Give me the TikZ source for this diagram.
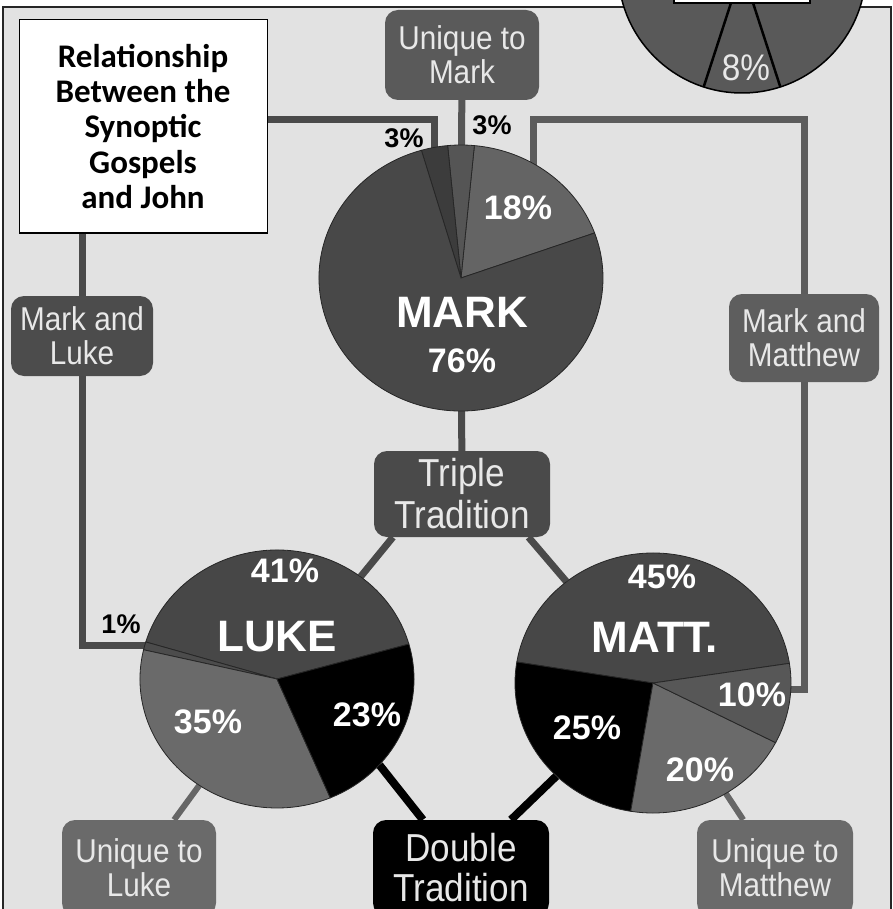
\documentclass[tikz,border=0pt]{standalone}
\usepackage{fontspec}
\setmainfont{Liberation Sans}
\newfontfamily\titlefont{Carlito}
\newfontfamily\boxfont[FakeStretch=0.9]{Liberation Sans}
\usetikzlibrary{shapes.geometric}

\definecolor{panel}{HTML}{E2E2E2}
\definecolor{boxtext}{HTML}{E8E8E8}
\definecolor{umfill}{HTML}{5A5A5A}
\definecolor{mlfill}{HTML}{4C4C4C}
\definecolor{mmfill}{HTML}{5E5E5E}
\definecolor{trifill}{HTML}{4A4A4A}
\definecolor{uqfill}{HTML}{6A6A6A}
\definecolor{lkcol}{HTML}{4A4A4A}
\definecolor{mmcol}{HTML}{5C5C5C}
\definecolor{umcol}{HTML}{555555}
\definecolor{uqcol}{HTML}{666666}
\definecolor{johnfill}{HTML}{595959}
\definecolor{mkE}{HTML}{646464}
\definecolor{mkU}{HTML}{555555}
\definecolor{mkL}{HTML}{3C3C3C}
\definecolor{mkS}{HTML}{484848}
\definecolor{lkS}{HTML}{474747}
\definecolor{lkM}{HTML}{4C4C4C}
\definecolor{lkU}{HTML}{6A6A6A}
\definecolor{mtS}{HTML}{474747}
\definecolor{mtU}{HTML}{6A6A6A}
\definecolor{mtM}{HTML}{575757}

\pgfdeclarelayer{back}
\pgfdeclarelayer{links}
\pgfsetlayers{back,links,main}

\begin{document}
\begin{tikzpicture}[x=1pt, y=1pt,
  gbox/.style={rounded corners=13pt, align=center, text=boxtext, inner sep=0pt, font=\boxfont\fontsize{33}{34}\selectfont},
  bigbox/.style={gbox, font=\boxfont\fontsize{39}{42}\selectfont},
  pie/.style={ellipse, inner sep=0pt},
  wedge/.style={draw=black!85, line width=0.8pt},
  pct/.style={text=white, font=\bfseries\fontsize{34}{34}\selectfont},
  gospel/.style={text=white, font=\bfseries\fontsize{44}{44}\selectfont},
  outpct/.style={text=black, font=\bfseries\fontsize{27}{27}\selectfont},
  link/.style={line width=7pt}]

\useasboundingbox (0,0) rectangle (892,-909);

% Frame
\begin{pgfonlayer}{back}
\fill[white] (0,0) rectangle (892,-909);
\draw[fill=panel, draw=black!85, line width=1.5pt] (3,-7) rectangle (891,-960);
\end{pgfonlayer}

% John pie (cut off at the top)
\filldraw[fill=johnfill, draw=black, line width=1.5pt] (742,31) circle[radius=124pt];
\draw[line width=2.5pt] (742,31) -- ++(252:124pt);
\draw[line width=2.5pt] (742,31) -- ++(288:124pt);
\draw[fill=white, line width=1.2pt] (674,40) rectangle (810,-3);
\node[text=boxtext, font=\boxfont\fontsize{37}{37}\selectfont] (johnp) at (746,-68) {8\%};

% Pies
\node[pie, minimum width=284pt, minimum height=266pt] (mark) at (461,-278) {};
\node[pie, minimum width=274pt, minimum height=258pt] (luke) at (277,-679) {};
\node[pie, minimum width=276pt, minimum height=260pt] (matt) at (653,-683) {};

\foreach \a/\b/\c in {19.8/84.6/mkE, 84.6/95.4/mkU, 95.4/106.2/mkL, 106.2/379.8/mkS}
  \filldraw[wedge, fill=\c] (mark.center) -- ++(\a:142pt and 133pt) arc[start angle=\a, end angle=\b, x radius=142pt, y radius=133pt] -- cycle;
\foreach \a/\b/\c in {15.7/163.3/lkS, 163.3/166.9/lkM, 166.9/292.9/lkU, 292.9/375.7/black}
  \filldraw[wedge, fill=\c] (luke.center) -- ++(\a:137pt and 129pt) arc[start angle=\a, end angle=\b, x radius=137pt, y radius=129pt] -- cycle;
\foreach \a/\b/\c in {8.7/170.7/mtS, 170.7/260.7/black, 260.7/332.7/mtU, 332.7/368.7/mtM}
  \filldraw[wedge, fill=\c] (matt.center) -- ++(\a:138pt and 130pt) arc[start angle=\a, end angle=\b, x radius=138pt, y radius=130pt] -- cycle;

% Boxes
\node[draw=black, fill=white, line width=1pt, minimum width=248pt, minimum height=213pt, align=center, font=\titlefont\bfseries\fontsize{33}{35.3}\selectfont] (title) at (143,-126.5) {Relationship\\Between the\\Synoptic\\Gospels\\and John};
\node[gbox, fill=umfill, minimum width=154pt, minimum height=90pt] (umbox) at (462,-55) {Unique to\\Mark};
\node[gbox, fill=mlfill, minimum width=142pt, minimum height=80pt] (mlbox) at (82,-336) {Mark and\\Luke};
\node[gbox, fill=mmfill, minimum width=150pt, minimum height=88pt] (mmbox) at (804,-338) {Mark and\\Matthew};
\node[bigbox, fill=trifill, minimum width=176pt, minimum height=86pt] (triple) at (462,-494) {Triple\\Tradition};
\node[bigbox, fill=black, minimum width=176pt, minimum height=96pt, font=\boxfont\fontsize{39}{40}\selectfont] (double) at (461,-868) {Double\\Tradition};
\node[gbox, fill=uqfill, minimum width=154pt, minimum height=96pt] (ulbox) at (139,-868) {Unique to\\Luke};
\node[gbox, fill=uqfill, minimum width=156pt, minimum height=96pt] (ummbox) at (775,-868) {Unique to\\Matthew};

% Pie labels
\node[outpct] (mkpl) at (404,-138) {3\%};
\node[outpct] (mkpu) at (492,-125) {3\%};
\node[pct] (mkpe) at (518,-208) {18\%};
\node[gospel] (mklabel) at (462,-312) {MARK};
\node[pct] (mkps) at (462,-361) {76\%};
\node[outpct] (lkpm) at (121,-624) {1\%};
\node[pct] (lkps) at (285,-571) {41\%};
\node[gospel] (lklabel) at (277,-637) {LUKE};
\node[pct] (lkpu) at (208,-722) {35\%};
\node[pct] (lkpd) at (367,-715) {23\%};
\node[pct] (mtps) at (662,-577) {45\%};
\node[gospel] (mtlabel) at (655,-637) {MATT.};
\node[pct] (mtpm) at (752,-695) {10\%};
\node[pct] (mtpd) at (587,-728) {25\%};
\node[pct] (mtpu) at (700,-770) {20\%};

% Connectors
\coordinate (lkjoin) at (200,-645);
\coordinate (mkleft) at (434,-120);
\coordinate (mtjoin) at (720,-689);
\coordinate (mkright) at (533,-120);
\begin{pgfonlayer}{links}
\draw[link, lkcol] (lkjoin) -| (mlbox) |- (mkleft) -- (mkleft |- mark.center);
\draw[link, mmcol] (mtjoin) -| (mmbox) |- (mkright) -- (mkright |- mark.center);
\draw[link, umcol] (umbox) -- (mark);
\draw[link, trifill] (mark) -- (triple);
\draw[link, trifill] (luke) -- (triple.-148);
\draw[link, trifill] (matt) -- (triple.-33);
\draw[link, black, line width=8pt] (luke.-40) -- (double);
\draw[link, black, line width=8pt] (matt) -- (double);
\draw[link, uqcol, line width=6pt] (luke) -- (ulbox);
\draw[link, uqcol, line width=6pt] (matt) -- (ummbox);
\end{pgfonlayer}
\end{tikzpicture}
\end{document}
